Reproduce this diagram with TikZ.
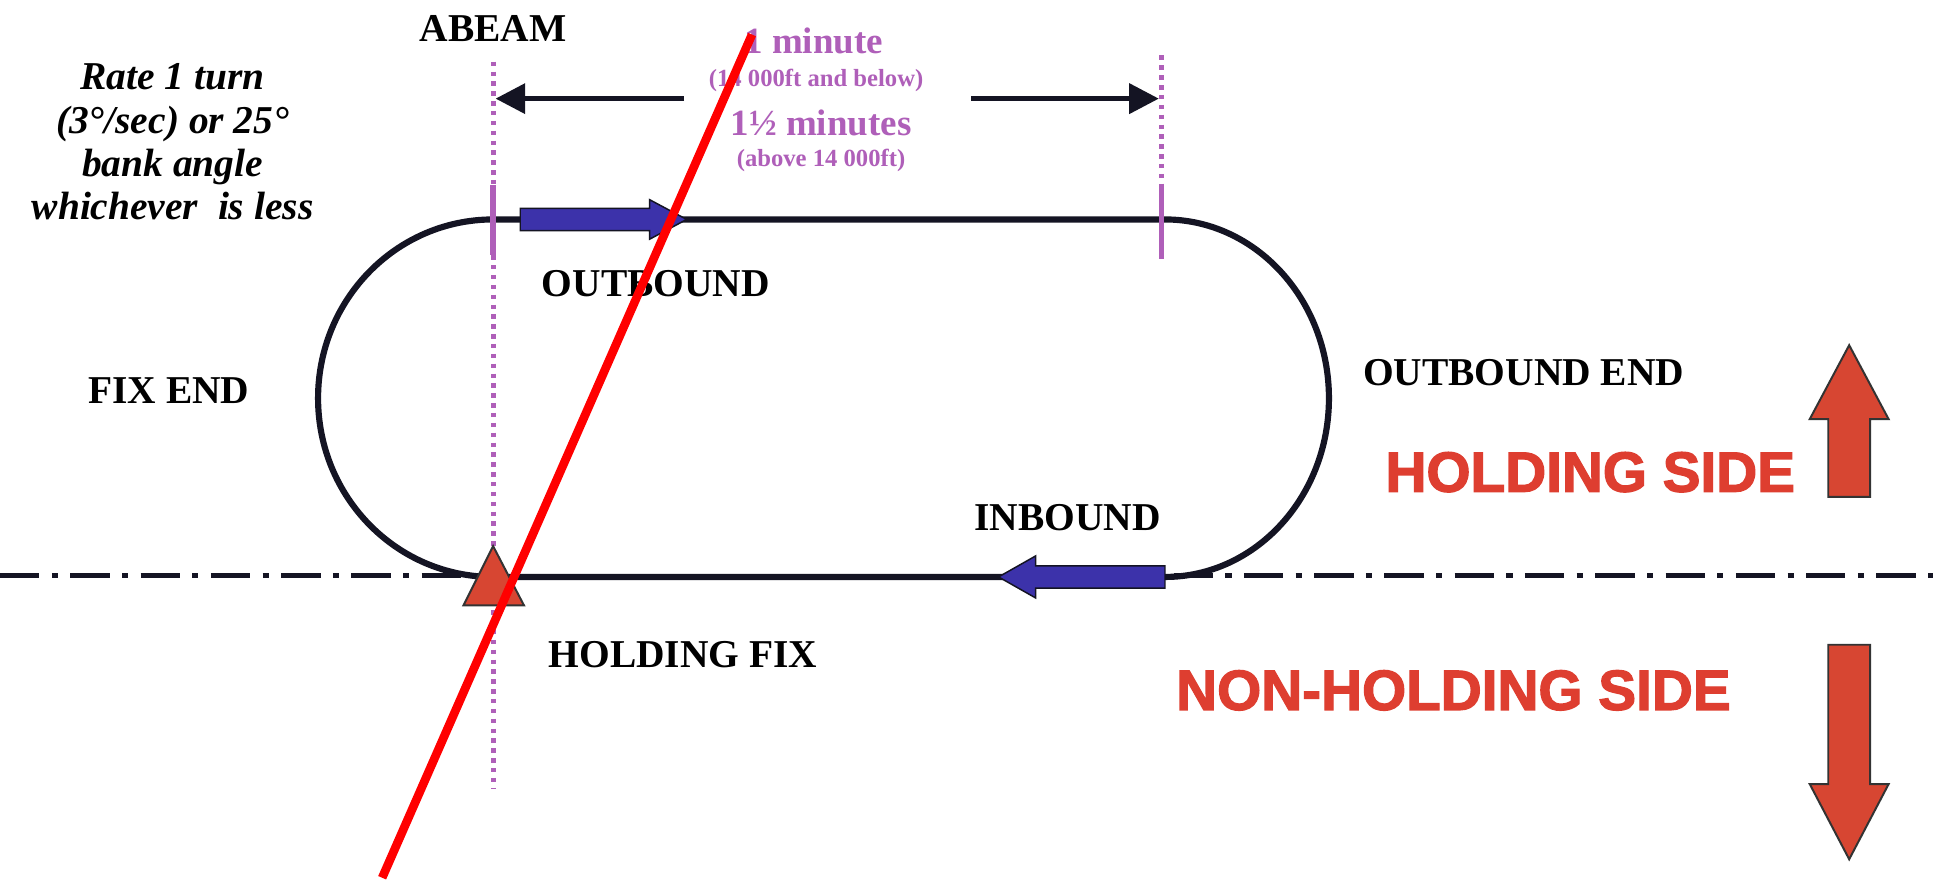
\documentclass[tikz,border=0pt]{standalone}
\usepackage{fontspec}
\setmainfont{Liberation Serif}
\newfontfamily\redfont[BoldFeatures={FakeBold=2.2}]{Liberation Sans}
\usetikzlibrary{arrows.meta}
\definecolor{trackcol}{RGB}{20,20,35}
\definecolor{purp}{RGB}{175,95,185}
\definecolor{bluearr}{RGB}{60,50,170}
\definecolor{redtxt}{RGB}{222,62,48}
\definecolor{redarr}{RGB}{215,70,50}
\tikzset{
  lbl/.style={font=\fontsize{16}{19}\selectfont\bfseries, text=black, inner sep=0pt},
  purbig/.style={font=\fontsize{15}{17}\selectfont\bfseries, text=purp, inner sep=0pt},
  pursmall/.style={font=\fontsize{10}{12}\selectfont\bfseries, text=purp, inner sep=0pt},
  sidetxt/.style={font=\redfont\fontsize{23}{26}\selectfont\bfseries, text=redtxt, inner sep=0pt},
  track/.style={draw=trackcol, line width=2.5pt},
  centreline/.style={draw=trackcol, line width=2pt, dash pattern=on 16pt off 5pt on 2.5pt off 5pt},
  purdot/.style={draw=purp, line width=2pt, dash pattern=on 1.8pt off 2.2pt},
  dimarrow/.style={draw=trackcol, line width=2pt, -{Triangle[length=12pt,width=12pt]}},
  bluefill/.style={fill=bluearr, draw=trackcol, line width=0.6pt},
  redfill/.style={fill=redarr, draw=black!80, line width=0.8pt},
}
\begin{document}
\begin{tikzpicture}[x=0.5pt,y=-0.5pt]
\useasboundingbox (0,0) rectangle (1568,718);
\fill[white] (0,0) rectangle (1568,718);

% centre line (dash-dot)
\coordinate (cl1) at (0,467);
\coordinate (cl2) at (395,467);
\coordinate (cl3) at (952,467);
\coordinate (cl4) at (1568,467);
\draw[centreline] (cl1) -- (cl2);
\draw[centreline] (cl3) -- (cl4);

% racetrack
\draw[track] (400,178) -- (945,178)
  arc[start angle=-90, end angle=90, x radius=133, y radius=145]
  -- (400,468)
  arc[start angle=90, end angle=270, x radius=142, y radius=145] -- cycle;

% purple verticals
\coordinate (la) at (400,50);
\coordinate (lb) at (400,150);
\coordinate (lc) at (400,207);
\coordinate (ld) at (400,640);
\draw[purdot] (la) -- (lb);
\draw[purdot] (lc) -- (ld);
\draw[draw=purp, line width=2.2pt] (lb) -- (lc);
\coordinate (ra) at (942,45);
\coordinate (rb) at (942,150);
\coordinate (rc) at (942,210);
\draw[purdot] (ra) -- (rb);
\draw[draw=purp, line width=2.2pt] (rb) -- (rc);

% dimension arrows
\coordinate (d1) at (555,80);
\coordinate (d2) at (402,80);
\coordinate (d3) at (788,80);
\coordinate (d4) at (940,80);
\draw[dimarrow] (d1) -- (d2);
\draw[dimarrow] (d3) -- (d4);

% blue direction arrows
\filldraw[bluefill] (422,169) -- (527,169) -- (527,162) -- (557,178) -- (527,194) -- (527,187) -- (422,187) -- cycle;
\filldraw[bluefill] (945,459) -- (840,459) -- (840,451) -- (810,468) -- (840,485) -- (840,477) -- (945,477) -- cycle;

% holding fix triangle
\filldraw[redfill] (400,443) -- (425,491) -- (376,491) -- cycle;

% side arrows
\filldraw[redfill] (1500,280) -- (1532,340) -- (1517,340) -- (1517,403) -- (1483,403) -- (1483,340) -- (1468,340) -- cycle;
\filldraw[redfill] (1483,523) -- (1517,523) -- (1517,636) -- (1532,636) -- (1500,697) -- (1468,636) -- (1483,636) -- cycle;

% labels
\node[lbl] (abeam) at (400,23) {ABEAM};
\node[lbl, align=center, font=\fontsize{16}{17.5}\selectfont\bfseries\itshape] (rate) at (140,115)
  {Rate 1 turn\\(3°/sec) or 25°\\bank angle\\whichever\ \ is less};
\node[purbig] (onemin) at (660,33) {1 minute};
\node[pursmall] (below) at (662,65) {(14 000ft and below)};
\node[purbig] (onehalf) at (666,100) {1½ minutes};
\node[pursmall] (above) at (666,130) {(above 14 000ft)};
\node[lbl] (outb) at (532,230) {OUTBOUND};
\node[lbl] (fixend) at (137,317) {FIX END};
\node[lbl] (outend) at (1236,302) {OUTBOUND END};
\node[lbl] (inb) at (866,420) {INBOUND};
\node[lbl] (hfix) at (554,531) {HOLDING FIX};
\node[sidetxt] (hside) at (1290,383) {HOLDING SIDE};
\node[sidetxt] (nhside) at (1179,560) {NON-HOLDING SIDE};

% red strike line
\coordinate (s1) at (610,28);
\coordinate (s2) at (310,712);
\draw[red, line width=3.5pt] (s1) -- (s2);
\end{tikzpicture}
\end{document}
